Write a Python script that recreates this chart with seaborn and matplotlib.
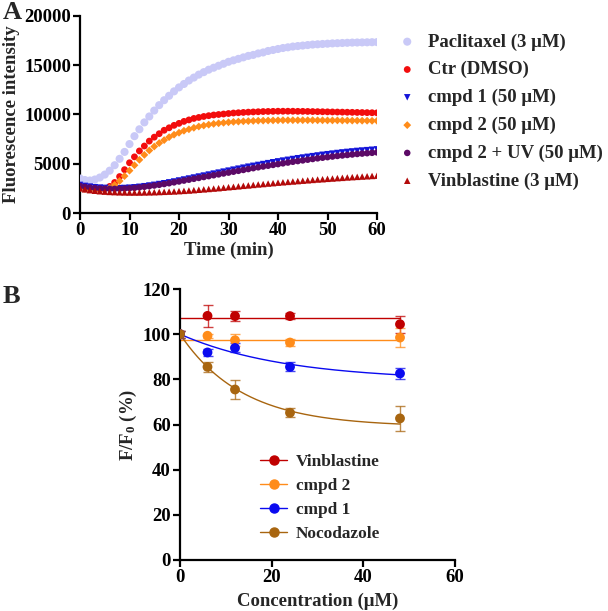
import numpy as np
import pandas as pd
import matplotlib
matplotlib.use('Agg')
import matplotlib.pyplot as plt
from matplotlib.lines import Line2D
import seaborn as sns

sns.set_style('ticks')
plt.rcParams['font.family'] = ['Liberation Serif', 'DejaVu Serif']
plt.rcParams['font.weight'] = 'bold'
plt.rcParams['axes.labelweight'] = 'bold'
plt.rcParams['font.size'] = 13.5
plt.rcParams['mathtext.fontset'] = 'custom'
plt.rcParams['mathtext.rm'] = 'Liberation Serif:bold'
plt.rcParams['mathtext.it'] = 'Liberation Serif:bold'
plt.rcParams['mathtext.bf'] = 'Liberation Serif:bold'

FS = 13.5

# ---- Panel A: polimerização (fluorescência vs tempo) ----
tempo = list(range(0, 61))

paclitaxel = [3500, 3350, 3300, 3400, 3600, 3900, 4300, 4850, 5500, 6200,
              7000, 7800, 8500, 9200, 9800, 10400, 10950, 11450, 11900, 12350,
              12750, 13100, 13450, 13750, 14050, 14300, 14550, 14750, 14950, 15150,
              15350, 15500, 15650, 15800, 15950, 16050, 16200, 16300, 16450, 16550,
              16650, 16750, 16820, 16900, 16950, 17000, 17050, 17100, 17130, 17160,
              17190, 17220, 17240, 17260, 17280, 17300, 17310, 17320, 17330, 17340,
              17350]
ctr_dmso = [2650, 2550, 2480, 2430, 2400, 2450, 2700, 3100, 3700, 4400,
            5100, 5700, 6300, 6800, 7300, 7700, 8050, 8400, 8650, 8900,
            9100, 9300, 9450, 9600, 9700, 9800, 9880, 9950, 10000, 10050,
            10100, 10150, 10180, 10210, 10240, 10260, 10280, 10300, 10310, 10320,
            10330, 10330, 10330, 10330, 10320, 10320, 10310, 10300, 10290, 10280,
            10270, 10260, 10250, 10240, 10230, 10220, 10210, 10200, 10190, 10180,
            10170]
cmpd1 = [2850, 2750, 2680, 2620, 2580, 2550, 2530, 2520, 2520, 2540,
         2570, 2610, 2660, 2720, 2790, 2860, 2940, 3020, 3110, 3200,
         3300, 3400, 3500, 3600, 3700, 3800, 3900, 4000, 4100, 4200,
         4300, 4400, 4500, 4600, 4700, 4790, 4880, 4970, 5060, 5150,
         5240, 5320, 5400, 5480, 5560, 5630, 5700, 5770, 5840, 5910,
         5970, 6030, 6090, 6150, 6200, 6250, 6300, 6340, 6380, 6420,
         6460]
cmpd2 = [2550, 2450, 2400, 2350, 2350, 2400, 2550, 2850, 3250, 3750,
         4300, 4850, 5400, 5900, 6350, 6750, 7100, 7400, 7700, 7950,
         8150, 8350, 8500, 8650, 8780, 8880, 8970, 9050, 9110, 9160,
         9210, 9250, 9280, 9310, 9330, 9350, 9370, 9380, 9390, 9400,
         9410, 9420, 9420, 9420, 9420, 9420, 9420, 9420, 9410, 9410,
         9400, 9400, 9400, 9390, 9390, 9380, 9380, 9370, 9370, 9360,
         9360]
cmpd2_uv = [2750, 2650, 2580, 2530, 2490, 2460, 2450, 2450, 2460, 2480,
            2510, 2550, 2600, 2660, 2720, 2790, 2860, 2940, 3020, 3110,
            3200, 3290, 3380, 3470, 3560, 3650, 3740, 3830, 3920, 4010,
            4100, 4190, 4280, 4370, 4460, 4550, 4640, 4720, 4800, 4880,
            4960, 5040, 5120, 5200, 5270, 5340, 5410, 5480, 5550, 5610,
            5670, 5730, 5790, 5840, 5890, 5940, 5990, 6030, 6070, 6110,
            6150]
vinblastina = [2500, 2400, 2320, 2260, 2210, 2170, 2140, 2120, 2100, 2090,
               2080, 2080, 2080, 2090, 2100, 2110, 2130, 2150, 2170, 2190,
               2220, 2250, 2280, 2320, 2360, 2400, 2440, 2480, 2520, 2570,
               2620, 2660, 2710, 2760, 2800, 2850, 2900, 2940, 2990, 3030,
               3080, 3120, 3160, 3200, 3240, 3280, 3320, 3360, 3400, 3430,
               3470, 3500, 3540, 3570, 3610, 3640, 3670, 3700, 3730, 3760,
               3790]

series_a = ['Paclitaxel (3 μM)', 'Ctr (DMSO)', 'cmpd 1 (50 μM)', 'cmpd 2 (50 μM)',
            'cmpd 2 + UV (50 μM)', 'Vinblastine (3 μM)']
valores_a = [paclitaxel, ctr_dmso, cmpd1, cmpd2, cmpd2_uv, vinblastina]
cores_a = ['#c9c9f7', '#f20d0d', '#1414d9', '#ff8c1a', '#5c0a66', '#b30a0a']
marcadores_a = ['o', 'o', 'v', 'D', 'o', '^']
tamanhos_a = [34, 24, 22, 16, 22, 22]

# ---- Panel B: F/F0 vs concentração ----
conc = [0, 6, 12, 24, 48]
nomes_b = ['Vinblastine', 'cmpd 2', 'cmpd 1', 'Nocodazole']
media_b = [[100, 108.1, 108.0, 108.0, 104.4],
           [100, 99.3, 97.3, 96.3, 98.5],
           [100, 91.9, 93.9, 85.5, 82.6],
           [100, 85.5, 75.5, 65.2, 62.7]]
erro_b = [[1.5, 4.8, 2.3, 1.5, 3.8],
          [1.5, 0.8, 2.6, 1.5, 4.4],
          [1.5, 1.7, 2.0, 2.0, 2.5],
          [1.5, 2.3, 4.0, 2.0, 5.4]]
# ajustes (plateau, k); k = 0 -> linha horizontal
ajuste_b = [(107.0, 0.0), (97.3, 0.0), (79.4, 0.0434), (59.0, 0.0736)]
cores_b = ['#c00000', '#ff8c1a', '#0a0af0', '#a8650f']


fig = plt.figure(figsize=(6.08, 6.11), dpi=100)

# Panel A
ax_a = fig.add_axes([80 / 608, 1 - 213 / 611, 297 / 608, 197 / 611])
for nome, vals, cor, mk, s in zip(series_a, valores_a, cores_a, marcadores_a, tamanhos_a):
    sns.scatterplot(x=tempo, y=vals, ax=ax_a, color=cor, marker=mk, s=s,
                    edgecolor='none', linewidth=0, label=nome, zorder=3)
ax_a.set_xlim(0, 60)
ax_a.set_ylim(0, 20000)
ax_a.set_xticks(range(0, 61, 10))
ax_a.set_yticks(range(0, 20001, 5000))
ax_a.set_xlabel('Time (min)', fontsize=FS, labelpad=2)
ax_a.set_ylabel('Fluorescence intensity', fontsize=FS, labelpad=3)
ax_a.legend(loc='upper left', bbox_to_anchor=(1.045, 0.95), frameon=False,
            fontsize=FS, handletextpad=0.6, labelspacing=0.56,
            markerscale=1.0, borderaxespad=0, handlelength=1.0)
fig.text(0.004, 0.998, 'A', fontsize=19, fontweight='bold', va='top', ha='left')

# Panel B
ax_b = fig.add_axes([180 / 608, 1 - 560 / 611, 275 / 608, 271 / 611])
x_fit = np.linspace(0, 48, 200)
handles = []
for nome, m, e, (plat, k), cor in zip(nomes_b, media_b, erro_b, ajuste_b, cores_b):
    y_fit = plat + (100 - plat) * np.exp(-k * x_fit) if k > 0 else np.full_like(x_fit, plat)
    sns.lineplot(x=x_fit, y=y_fit, ax=ax_b, color=cor, linewidth=1.0, zorder=2)
    ax_b.errorbar(conc, m, yerr=e, fmt='none', ecolor=cor, elinewidth=1.0,
                  capsize=3.5, capthick=1.0, alpha=0.75, zorder=3)
    sns.scatterplot(x=conc, y=m, ax=ax_b, color=cor, s=50, edgecolor='none', zorder=4)
    handles.append(Line2D([0], [0], color=cor, marker='o', markersize=6.5,
                          linewidth=1.0, label=nome))
ax_b.set_xlim(0, 60)
ax_b.set_ylim(0, 120)
ax_b.set_xticks(range(0, 61, 20))
ax_b.set_yticks(range(0, 121, 20))
ax_b.set_xlabel('Concentration (μM)', fontsize=FS, labelpad=5)
ax_b.set_ylabel('F/F$_0$ (%)', fontsize=FS, labelpad=3)
ax_b.legend(handles=handles, loc='upper left', bbox_to_anchor=(0.265, 0.415),
            frameon=False, fontsize=12.4, handlelength=1.6, handletextpad=0.5,
            labelspacing=0.45, borderaxespad=0)
fig.text(0.004, 1 - 285 / 611, 'B', fontsize=19, fontweight='bold', va='top', ha='left')

for ax in (ax_a, ax_b):
    sns.despine(ax=ax)
    for sp in ('left', 'bottom'):
        ax.spines[sp].set_linewidth(1.6)
        ax.spines[sp].set_color('black')
    ax.tick_params(axis='both', width=1.6, length=5, direction='out',
                   labelsize=FS, pad=1.5, colors='black')
    for lbl in ax.get_xticklabels() + ax.get_yticklabels():
        lbl.set_fontweight('bold')

fig.savefig('out.png', dpi=100)
